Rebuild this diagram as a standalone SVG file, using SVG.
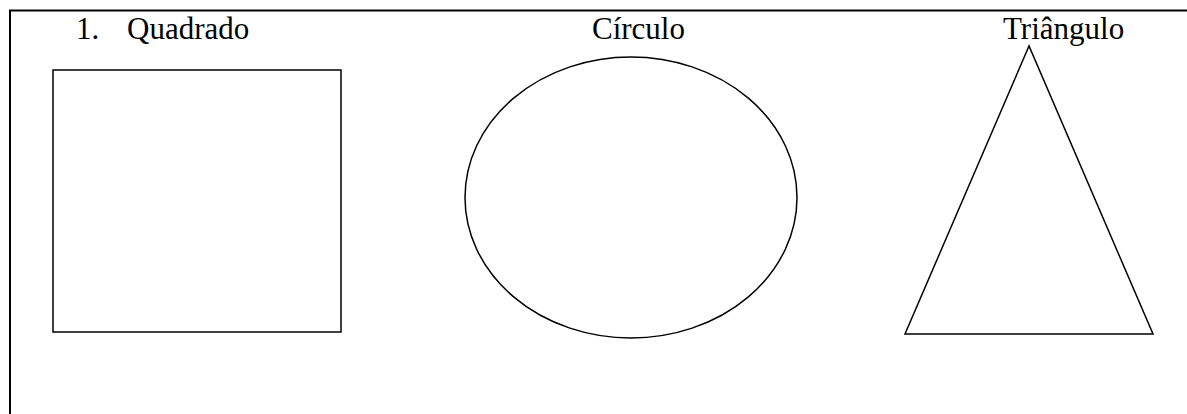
<svg xmlns="http://www.w3.org/2000/svg" width="1187" height="414" viewBox="0 0 1187 414">
<style>
.t{font-family:"Liberation Serif","Times New Roman",serif;font-size:31px;fill:#000}
.s{fill:none;stroke:#000;stroke-width:1.5}
.b{fill:none;stroke:#000;stroke-width:2}
</style>
<rect width="1187" height="414" fill="#fff"/>
<g id="frame">
<path class="b" d="M10 414 V10.5 H1187"/>
</g>
<g id="square">
<text class="t" x="76" y="39">1.</text>
<text class="t" x="127" y="39">Quadrado</text>
<rect class="s" x="53" y="70" width="288" height="262"/>
</g>
<g id="circle">
<text class="t" x="592" y="39">Círculo</text>
<ellipse class="s" cx="631" cy="197.5" rx="166" ry="140.5"/>
</g>
<g id="triangle">
<text class="t" x="1003" y="39">Triângulo</text>
<polygon class="s" points="1029,46 905,334 1153,334" stroke-linejoin="miter"/>
</g>
<g id="connectors"/>
</svg>
